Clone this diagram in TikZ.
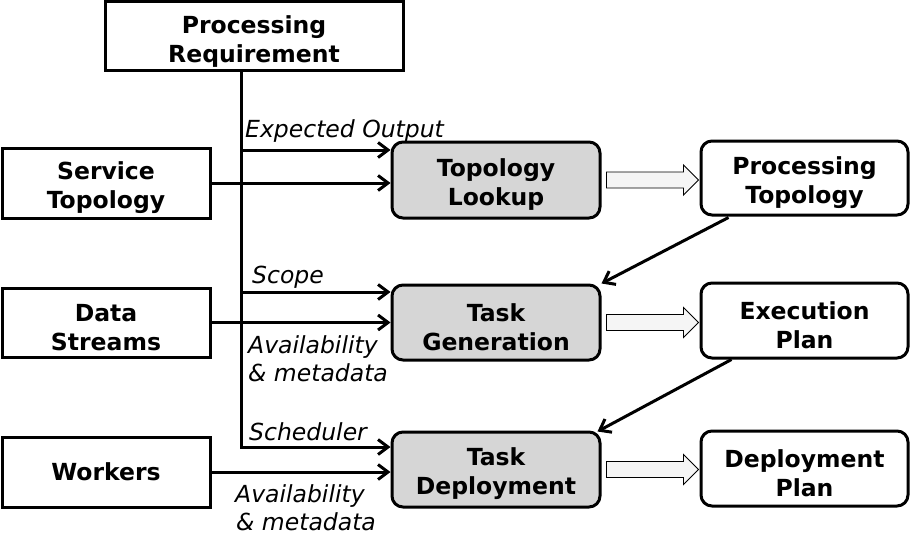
\documentclass[tikz,border=0pt]{standalone}
\usepackage{fontspec}
\setmainfont{DejaVu Sans}
\usetikzlibrary{arrows.meta,calc}
\newcommand\myup{\rule{0pt}{27pt}}
\begin{document}
\begin{tikzpicture}[x=1pt,y=-1pt,
 sq/.style={draw,line width=3pt,align=center,font=\fontsize{23.5}{29}\selectfont\bfseries,inner sep=0pt},
 rd/.style={sq,rounded corners=11pt},
 proc/.style={rd,fill=gray!32},
 conn/.style={line width=3pt,-{Straight Barb[length=10pt,width=15pt,line width=3pt]}},
 lab/.style={font=\fontsize{23.5}{28}\selectfont\itshape,inner sep=0pt,anchor=base west},
 blk/.style={draw,line width=0.9pt,fill=gray!8}]
\useasboundingbox (0,0) rectangle (910,551);
\node[sq,minimum width=298pt,minimum height=69pt] (PR) at (254,36.5) {\myup Processing\\Requirement};
\node[sq,minimum width=208pt,minimum height=70pt] (ST) at (106,183) {\myup Service\\Topology};
\node[sq,minimum width=208pt,minimum height=69pt] (DS) at (106,322.5) {\myup Data\\Streams};
\node[sq,minimum width=208pt,minimum height=70pt] (WK) at (106,472) {Workers};
\node[proc,minimum width=208pt,minimum height=76pt] (TL) at (496,180) {\myup Topology\\Lookup};
\node[proc,minimum width=208pt,minimum height=75pt] (TG) at (496,322.5) {\myup Task\\Generation};
\node[proc,minimum width=208pt,minimum height=75pt] (TD) at (496,469.5) {\myup Task\\Deployment};
\node[rd,minimum width=207pt,minimum height=74pt] (PT) at (804.5,178) {\myup Processing\\Topology};
\node[rd,minimum width=207pt,minimum height=75pt] (EP) at (804.5,320.5) {\myup Execution\\Plan};
\node[rd,minimum width=207pt,minimum height=75pt] (DP) at (804.5,468.5) {\myup Deployment\\Plan};
% trunk from processing requirement
\coordinate (b1) at (241,150);
\coordinate (b2) at (241,292);
\coordinate (b3) at (241,447);
\draw[conn] (PR.south -| b1) -- (b3) -- (b3 -| TD.west);
\draw[conn] (b1) -- (b1 -| TL.west);
\draw[conn] (b2) -- (b2 -| TG.west);
% inputs
\draw[conn] (ST.east) -- (ST.east -| TL.west);
\draw[conn] (DS.east) -- (DS.east -| TG.west);
\draw[conn] (WK.east) -- (WK.east -| TD.west);
% feedback diagonals
\draw[conn] ($(PT.south west)+(29,1)$) -- (TG.north east);
\draw[conn] ($(EP.south west)+(32,0)$) -- ($(TD.north east)+(-4,1)$);
% block arrows
\foreach \a in {TL,TG,TD}{
 \draw[blk] ($(\a.east)+(5,-8)$) -- ++(77,0) -- ++(0,-7) -- ++(15,15) -- ++(-15,15) -- ++(0,-7) -- ++(-77,0) -- cycle;
}
% labels
\node[lab] (l1) at (245,137) {Expected Output};
\node[lab] (l2) at (252,283) {Scope};
\node[lab] (l3) at (248,353) {Availability};
\node[lab] (l4) at (248,381) {\& metadata};
\node[lab] (l5) at (249,440) {Scheduler};
\node[lab] (l6) at (235,502) {Availability};
\node[lab] (l7) at (236,530) {\& metadata};
\end{tikzpicture}
\end{document}
